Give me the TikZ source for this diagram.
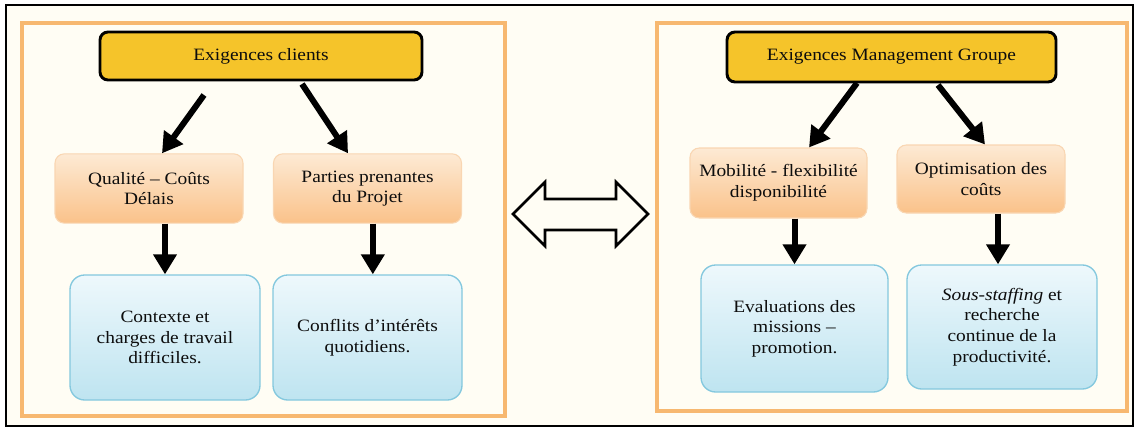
\documentclass[tikz,border=0pt]{standalone}
\usepackage{fontspec}
\setmainfont{Liberation Serif}[FakeStretch=1.12]
\usepackage{tikz}
\usetikzlibrary{shapes,arrows.meta}
\definecolor{cream}{RGB}{255,253,244}
\definecolor{panelorange}{RGB}{247,184,112}
\definecolor{gold}{RGB}{245,196,42}
\definecolor{peachtop}{RGB}{253,234,212}
\definecolor{peachbot}{RGB}{250,194,138}
\definecolor{peachline}{RGB}{249,214,178}
\definecolor{bluetop}{RGB}{238,248,252}
\definecolor{bluebot}{RGB}{190,228,240}
\definecolor{blueline}{RGB}{132,200,222}
\tikzstyle{panel} = [draw=panelorange, line width=2.4pt]
\tikzstyle{demand} = [draw=black, line width=2.2pt, fill=gold, rounded corners=6pt, inner sep=0pt]
\tikzstyle{issue} = [draw=peachline, line width=0.8pt, rounded corners=7pt, top color=peachtop, bottom color=peachbot, align=center, inner sep=0pt]
\tikzstyle{effect} = [draw=blueline, line width=1pt, rounded corners=11pt, top color=bluetop, bottom color=bluebot, align=center, inner sep=0pt]
\tikzstyle{link} = [draw, line width=4.5pt]

\begin{document}
\begin{tikzpicture}[x=0.75pt, y=-0.75pt, >={Triangle[length=15pt,width=17pt]},
    font=\fontsize{13}{15.5}\selectfont, text=black!95]
    \useasboundingbox (0,0) rectangle (1135,428);
    % Frame and panels
    \draw [black, line width=1.5pt, fill=cream] (6,5) rectangle (1133,426);
    \draw [panel] (22,23) rectangle (505,416);
    \draw [panel] (657,23) rectangle (1127,411);

    % Left side: client demands
    \node [demand, minimum width=241.5pt, minimum height=36pt] (exc) at (261,56) {Exigences clients};
    \node [issue, minimum width=141pt, minimum height=52pt] (qcd) at (149,188.5) {Qualité – Coûts\\Délais};
    \node [issue, minimum width=141pt, minimum height=52pt] (ppp) at (367.5,188.5) {Parties prenantes\\du Projet};
    \node [effect, minimum width=142.5pt, minimum height=93.75pt] (ctx) at (165,337.5) {Contexte et\\charges de travail\\difficiles.};
    \node [effect, minimum width=141.75pt, minimum height=93.75pt] (cfl) at (367.5,337.5) {Conflits d'intérêts\\quotidiens.};

    % Right side: group management demands
    \node [demand, minimum width=246.75pt, minimum height=37.5pt] (exm) at (891.5,57) {Exigences Management Groupe};
    \node [issue, minimum width=132.75pt, minimum height=52.5pt] (mfd) at (778.5,183) {Mobilité - flexibilité\\disponibilité};
    \node [issue, minimum width=126pt, minimum height=51pt] (opc) at (981,179) {Optimisation des\\coûts};
    \node [effect, minimum width=140.25pt, minimum height=95.25pt] (evm) at (794.5,328.5) {Evaluations des\\missions –\\promotion.};
    \node [effect, minimum width=142.5pt, minimum height=93pt] (sst) at (1002,327) {\textit{Sous-staffing} et\\recherche\\continue de la\\productivité.};

    % Connectors
    \coordinate (exc1) at (204,95);
    \coordinate (exc2) at (302,84);
    \coordinate (exm1) at (857,83);
    \coordinate (exm2) at (938,85);
    \draw [link, ->] (exc1) -- ([xshift=9.75pt]qcd.north);
    \draw [link, ->] (exc2) -- ([xshift=-14.6pt]ppp.north);
    \draw [link, ->] (exm1) -- ([xshift=22.9pt]mfd.north);
    \draw [link, ->] (exm2) -- ([xshift=3pt]opc.north);
    \draw [link, ->] (ctx.north |- qcd.south) -- (ctx.north);
    \draw [link, ->] ([xshift=4pt]cfl.north |- ppp.south) -- ([xshift=4pt]cfl.north);
    \draw [link, ->] (evm.north |- mfd.south) -- (evm.north);
    \draw [link, ->] ([xshift=-3pt]sst.north |- opc.south) -- ([xshift=-3pt]sst.north);

    % Double arrow between the panels
    \draw [black, line width=1.9pt, fill=cream, line join=miter]
        (513,214) -- (545,182) -- (545,199) -- (616,199) -- (616,182) -- (648,214)
        -- (616,246) -- (616,230) -- (545,230) -- (545,246) -- cycle;
\end{tikzpicture}
\end{document}
